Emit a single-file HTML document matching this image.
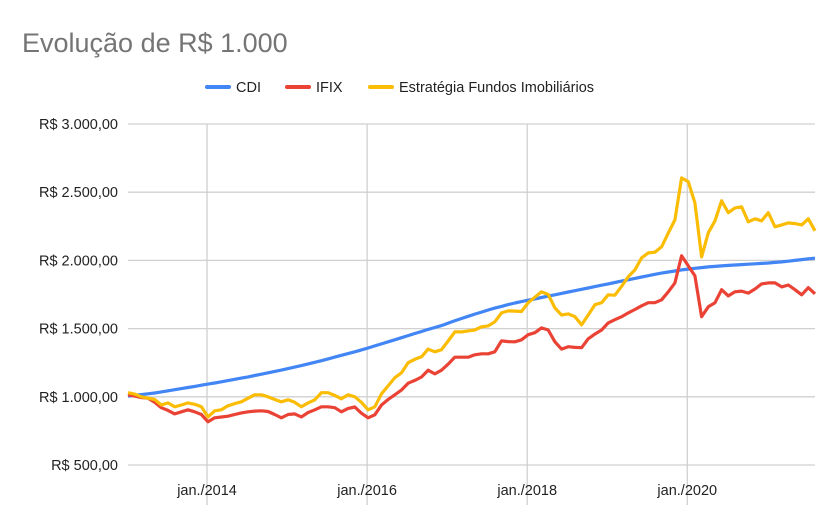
<!DOCTYPE html>
<html><head><meta charset="utf-8"><style>
body{margin:0;background:#fff;font-family:"Liberation Sans",Arial,sans-serif}
svg text{font-family:"Liberation Sans",Arial,sans-serif}
</style></head><body>
<svg id="chart" width="840" height="520" viewBox="0 0 840 520" xmlns="http://www.w3.org/2000/svg">
<text x="22" y="52" font-size="27" fill="#757575">Evolução de R$ 1.000</text>
<g id="legend"></g>
<g id="grid"></g>
<g id="axes"></g>
<g id="series"></g>
</svg>
<script>
const yTicks=[500,1000,1500,2000,2500,3000];
const yTickLabels=["R$ 500,00","R$ 1.000,00","R$ 1.500,00","R$ 2.000,00","R$ 2.500,00","R$ 3.000,00"];
const xTickMonths=[11.85,35.85,59.85,83.85];
const xTickLabels=["jan./2014","jan./2016","jan./2018","jan./2020"];
const seriesNames=["CDI","IFIX","Estratégia Fundos Imobiliários"];
const cdi=[1005,1010,1016,1022,1028,1036,1044,1052,1060,1068,1076,
1085,1093,1101,1110,1119,1128,1137,1146,1156,1166,1176,1186,
1196,1207,1218,1229,1241,1253,1265,1278,1291,1304,1317,1330,
1344,1358,1373,1388,1403,1418,1433,1449,1464,1479,1494,1508,
1522,1540,1557,1574,1590,1606,1621,1636,1650,1663,1676,1688,
1698,1708,1718,1728,1738,1748,1758,1768,1778,1788,1798,1808,
1818,1828,1838,1848,1858,1868,1878,1888,1898,1907,1915,1922,
1930,1936,1942,1947,1952,1956,1960,1963,1966,1969,1972,1975,
1978,1981,1985,1989,1994,2000,2006,2012,2016];
const ifix=[1015,1005,995,990,960,920,900,875,890,905,890,870,817,846,852,858,870,882,890,895,897,892,870,846,870,875,853,885,905,927,927,920,890,915,925,880,
846,868,940,980,1015,1050,1100,1120,1145,1195,1168,1195,1240,1290,1290,1290,1308,1315,1315,1330,1410,1405,1403,1418,1455,1470,1505,1490,1403,1350,1367,1362,1360,1425,1460,1490,
1542,1565,1587,1615,1640,1667,1690,1690,1711,1770,1835,2034,1960,1887,1587,1660,1690,1785,1740,1770,1775,1760,1790,1828,1835,1835,1806,1820,1785,1748,1800,1755];
const estrategia=[1030,1020,1000,990,980,940,955,927,940,955,945,927,853,897,905,934,950,963,990,1015,1015,1000,980,963,978,960,927,955,978,1030,1030,1010,985,1015,1000,
960,905,927,1022,1080,1140,1176,1250,1275,1293,1350,1330,1345,1410,1476,1476,1483,1490,1513,1520,1550,1615,1630,1628,1625,1690,1730,1770,1750,1652,1600,1608,1587,1528,1600,1675,1690,
1748,1745,1810,1880,1930,2018,2055,2060,2100,2200,2297,2605,2576,2422,2026,2202,2290,2437,2350,2385,2393,2283,2305,2290,2350,2246,2260,2275,2270,2260,2305,2217];
const colors=["#4285f4","#ea4335","#fbbc04"];
const NS="http://www.w3.org/2000/svg";
const L=128,R=815,T=124,B=465;
const nPts=cdi.length;
function xPos(i){return L+(R-L)*i/(nPts-1);}
function yPos(v){return B-(v-500)/(3000-500)*(B-T);}
const grid=document.getElementById('grid'),axes=document.getElementById('axes'),ser=document.getElementById('series'),leg=document.getElementById('legend');
function mk(tag,attrs,parent){const e=document.createElementNS(NS,tag);for(const k in attrs)e.setAttribute(k,attrs[k]);parent.appendChild(e);return e;}
yTicks.forEach((v,k)=>{
 const ln=mk('line',{x1:L,x2:R,y1:yPos(v),y2:yPos(v),stroke:'#d0d0d0','stroke-width':1.3},grid);
 
 
 const t=mk('text',{x:118,y:yPos(v)+5,'text-anchor':'end','font-size':14.5,fill:'#222'},axes);
 t.textContent=yTickLabels[k];
 
 
});
xTickMonths.forEach((m,k)=>{
 const ln=mk('line',{x1:xPos(m),x2:xPos(m),y1:T,y2:B+40,stroke:'#d0d0d0','stroke-width':1.3},grid);
 
 
 const t=mk('text',{x:xPos(m),y:495,'text-anchor':'middle','font-size':14.5,fill:'#222'},axes);
 t.textContent=xTickLabels[k];
 
 
});
[cdi,ifix,estrategia].forEach((arr,s)=>{
 const d=arr.map((v,i)=>(i?'L':'M')+xPos(i).toFixed(1)+' '+yPos(v).toFixed(1)).join(' ');
 const p=mk('path',{d:d,fill:'none',stroke:colors[s],'stroke-width':3.2,'stroke-linejoin':'round'},ser);
 
 
});
const legX=[207,287,370];
seriesNames.forEach((n,s)=>{
 const ln=mk('line',{x1:legX[s],x2:legX[s]+22,y1:87,y2:87,stroke:colors[s],'stroke-width':4,'stroke-linecap':'round'},leg);
 
 
 const t=mk('text',{x:legX[s]+29,y:92,'font-size':14.5,fill:'#222'},leg);
 t.textContent=n;
 
 
});
</script>
</body></html>
